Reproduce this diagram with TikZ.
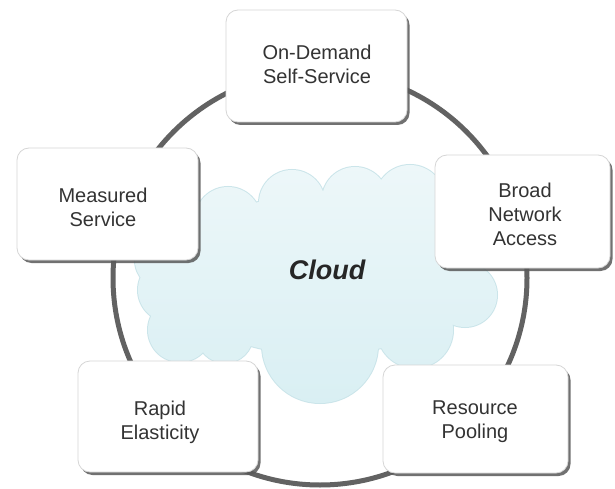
\documentclass[tikz,border=0pt]{standalone}
\usepackage{fontspec}
\setmainfont{Liberation Sans}
\usetikzlibrary{shadows}
\definecolor{ringgray}{HTML}{626262}
\definecolor{cloudtop}{HTML}{EDF7F9}
\definecolor{cloudbot}{HTML}{D9EFF3}
\definecolor{cloudedge}{HTML}{CBE5EA}
\definecolor{boxedge}{HTML}{D6D6D6}
\definecolor{txtgray}{HTML}{333333}
\begin{document}
\begin{tikzpicture}[x=1pt,y=-1pt,
  featbox/.style={draw=boxedge, line width=0.8pt, fill=white, rounded corners=12pt,
    minimum height=112pt, inner sep=0pt,
    drop shadow={shadow xshift=2.5pt, shadow yshift=-3pt, fill=black!65, opacity=0.85}},
  feattext/.style={align=center, font=\fontsize{20}{24}\selectfont, text=txtgray, inner sep=0pt},
  cloudtext/.style={font=\fontsize{27}{32}\selectfont\bfseries\itshape, text=black!85, inner sep=0pt},
]
\useasboundingbox (0,0) rectangle (615,489);
\fill[white] (0,0) rectangle (615,489);

% ring
\draw[ringgray, line width=5pt] (320,278) circle[radius=207];

% cloud outline
\draw[cloudedge, line width=2pt]
  (320,275) ellipse[x radius=150, y radius=80]
  (175,228) circle[radius=36] (228,220) circle[radius=33]
  (292,203) circle[radius=33] (355,200) circle[radius=33]
  (410,200) circle[radius=35] (440,232) circle[radius=40]
  (465,295) circle[radius=32] (415,330) circle[radius=38]
  (320,345) circle[radius=58] (225,335) circle[radius=28]
  (180,330) circle[radius=32] (170,290) circle[radius=32]
  (165,260) circle[radius=30];
% cloud fill
\shade[top color=cloudtop, bottom color=cloudbot]
  (320,275) ellipse[x radius=150, y radius=80]
  (175,228) circle[radius=36] (228,220) circle[radius=33]
  (292,203) circle[radius=33] (355,200) circle[radius=33]
  (410,200) circle[radius=35] (440,232) circle[radius=40]
  (465,295) circle[radius=32] (415,330) circle[radius=38]
  (320,345) circle[radius=58] (225,335) circle[radius=28]
  (180,330) circle[radius=32] (170,290) circle[radius=32]
  (165,260) circle[radius=30];
\node[cloudtext] (cloud) at (327,270) {Cloud};

% feature boxes
\node[featbox, minimum width=181pt] (od) at (316.5,66) {};
\node[feattext] (odt) at (317,64) {On-Demand\\Self-Service};

\node[featbox, minimum width=181pt] (ms) at (107.5,204) {};
\node[feattext] (mst) at (103,207) {Measured\\Service};

\node[featbox, minimum width=175pt, minimum height=113pt] (bna) at (522.5,211.5) {};
\node[feattext] (bnat) at (525,214) {Broad\\Network\\Access};

\node[featbox, minimum width=180pt, minimum height=111pt] (re) at (168,416.5) {};
\node[feattext] (ret) at (160,422) {Rapid\\Elasticity};

\node[featbox, minimum width=185pt, minimum height=108pt] (rp) at (475.5,419) {};
\node[feattext] (rpt) at (475,422) {Resource\\Pooling};
\end{tikzpicture}
\end{document}
